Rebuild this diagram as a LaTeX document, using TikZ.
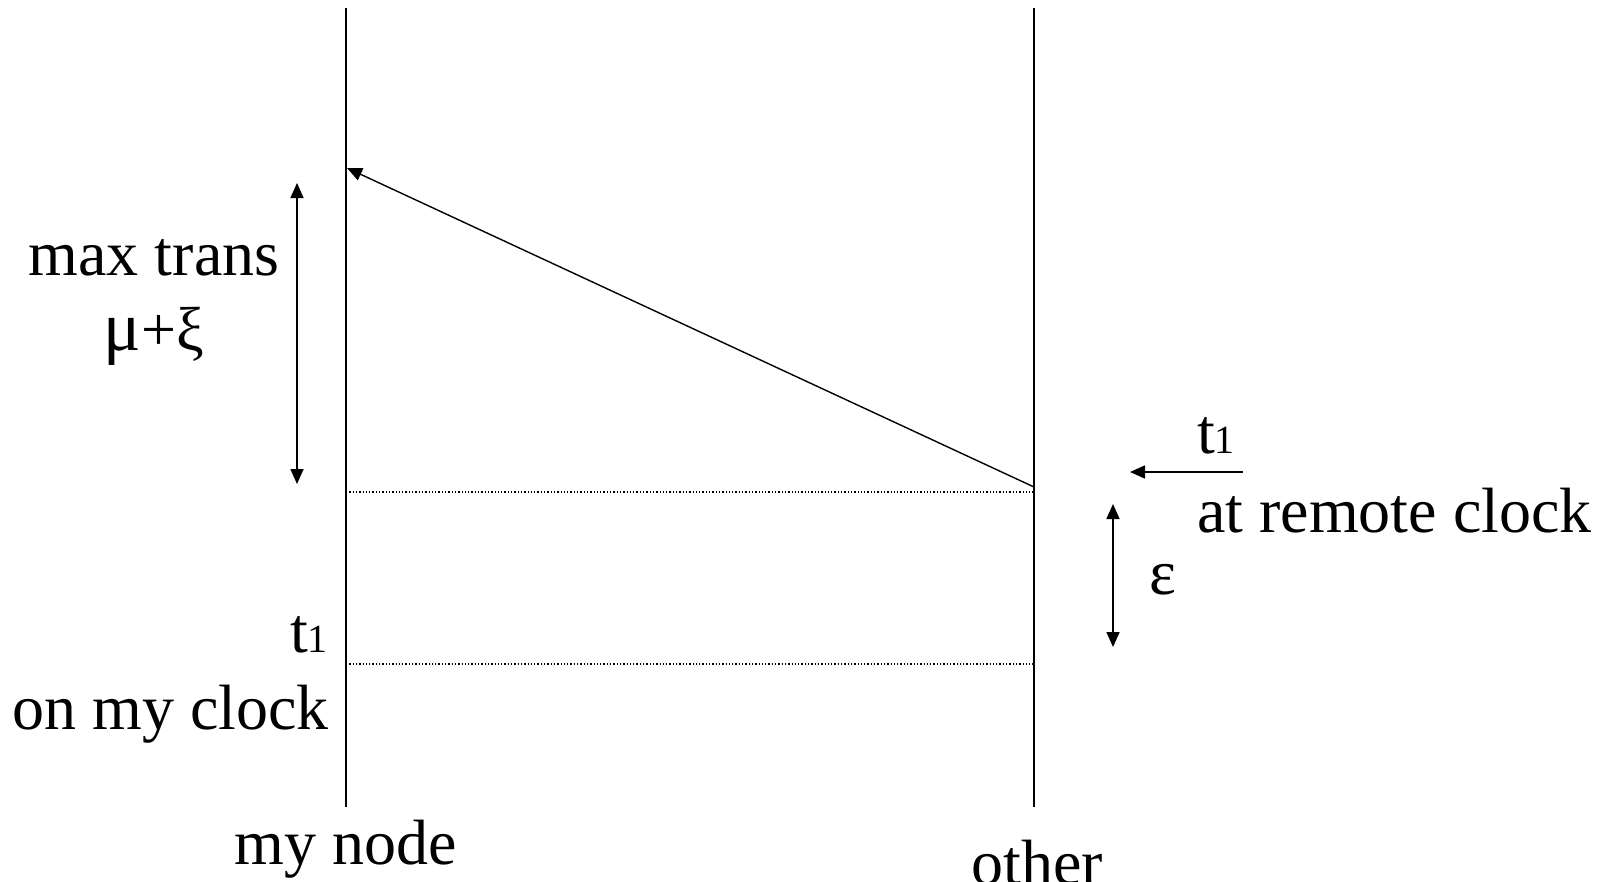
\documentclass[tikz,border=0pt]{standalone}
\usepackage{fontspec}
\setmainfont{Liberation Serif}
\usetikzlibrary{arrows.meta}
\begin{document}
\begin{tikzpicture}[x=1pt,y=-1pt,
  lane/.style={line width=1.6pt},
  msg/.style={line width=1.4pt,-{Triangle[length=15pt,width=13pt]}},
  span/.style={line width=1.6pt,{Triangle[length=15pt,width=13pt]}-{Triangle[length=15pt,width=13pt]}},
  ptr/.style={line width=1.6pt,-{Triangle[length=15pt,width=13pt]}},
  level/.style={line width=1.3pt,dotted},
  lbl/.style={inner sep=0pt,font=\fontsize{64}{64}\selectfont}]
\useasboundingbox (0,0) rectangle (1614,881);
\fill[white] (0,0) rectangle (1614,881);
% lifelines
\coordinate (Ltop) at (346,8);
\coordinate (Lbot) at (346,807);
\coordinate (Rtop) at (1034,8);
\coordinate (Rbot) at (1034,807);
\draw[lane] (Ltop) -- (Lbot);
\draw[lane] (Rtop) -- (Rbot);
% message
\coordinate (send) at (1034,487);
\coordinate (recv) at (347,168);
\draw[msg] (send) -- (recv);
% dotted levels
\coordinate (d1L) at (346,492);
\coordinate (d1R) at (1034,492);
\coordinate (d2L) at (346,664);
\coordinate (d2R) at (1034,664);
\draw[level] (d1L) -- (d1R);
\draw[level] (d2L) -- (d2R);
% spans
\coordinate (m1) at (297,183);
\coordinate (m2) at (297,484);
\draw[span] (m1) -- (m2);
\coordinate (e1) at (1113,504);
\coordinate (e2) at (1113,647);
\draw[span] (e1) -- (e2);
\coordinate (p1) at (1243,472);
\coordinate (p2) at (1130,472);
\draw[ptr] (p1) -- (p2);
% labels
\node[lbl,anchor=base] (maxtrans) at (154,275) {max trans};
\node[lbl,anchor=base] (muxi) at (154,350) {\fontsize{70}{70}\selectfont μ\fontsize{62}{62}\selectfont+ξ};
\node[lbl,anchor=base east] (t1l) at (328,652) {t\fontsize{40}{40}\selectfont 1};
\node[lbl,anchor=base east] (onmy) at (329,729) {on my clock};
\node[lbl,anchor=base west] (t1r) at (1197,453) {t\fontsize{40}{40}\selectfont 1};
\node[lbl,anchor=base west] (atrem) at (1197,532) {at remote clock};
\node[lbl,anchor=base west] (eps) at (1149,594) {ε};
\node[lbl,anchor=base] (mynode) at (346,864) {my node};
\node[lbl,anchor=base] (other) at (1037,884) {other};
\end{tikzpicture}
\end{document}
